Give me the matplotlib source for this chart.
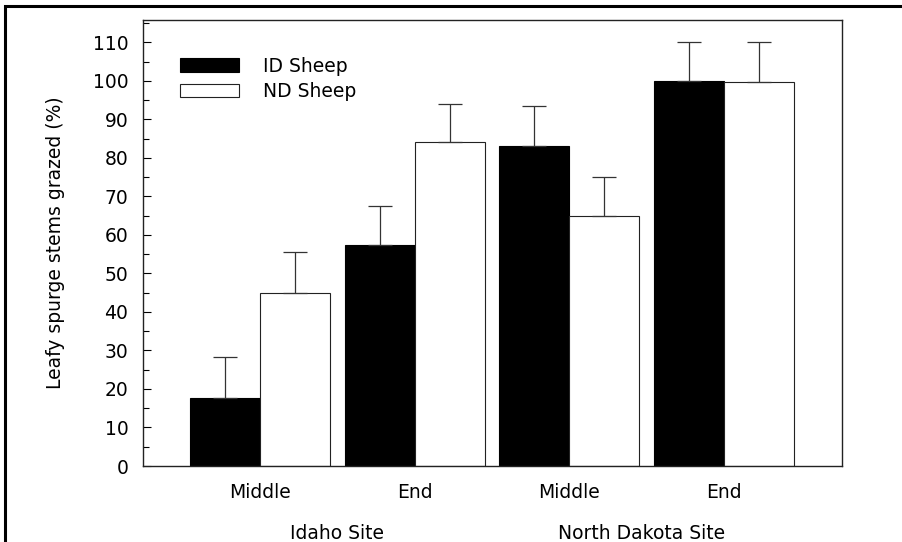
import matplotlib.pyplot as plt
from matplotlib.patches import Rectangle
from matplotlib.ticker import MultipleLocator
import numpy as np

# data
periods = ["Middle", "End", "Middle", "End"]
sites = ["Idaho Site", "North Dakota Site"]
series = ["ID Sheep", "ND Sheep"]
id_sheep = [17.7, 57.5, 83.0, 100.0]
id_err = [10.5, 10.0, 10.5, 10.2]
nd_sheep = [45.0, 84.0, 65.0, 99.8]
nd_err = [10.5, 10.0, 10.0, 10.2]

plt.rcParams["font.family"] = ["DejaVu Sans"]
fs = 13.5

fig = plt.figure(figsize=(9.02, 5.42), dpi=100)
ax = fig.add_axes([0.1585, 0.1402, 0.775, 0.8229])

x = np.arange(len(periods))
w = 0.4525
err_color = "#333333"

ax.bar(x - w / 2, id_sheep, w, color="black", edgecolor="black",
       linewidth=0.8, label=series[0], zorder=2)
ax.bar(x + w / 2, nd_sheep, w, color="white", edgecolor="#222222",
       linewidth=0.8, label=series[1], zorder=2)

ax.errorbar(x - w / 2, id_sheep, yerr=[np.zeros(len(x)), id_err], fmt="none",
            ecolor=err_color, elinewidth=0.9, capsize=8.6, capthick=0.9, zorder=3)
ax.errorbar(x + w / 2, nd_sheep, yerr=[np.zeros(len(x)), nd_err], fmt="none",
            ecolor=err_color, elinewidth=0.9, capsize=8.6, capthick=0.9, zorder=3)

ax.set_xlim(-0.756, 3.763)
ax.set_ylim(0, 115.8)
ax.yaxis.set_major_locator(MultipleLocator(10))
ax.yaxis.set_minor_locator(MultipleLocator(5))
ax.tick_params(axis="y", which="major", direction="in", length=6, width=0.8,
               labelsize=fs, pad=10.5)
ax.tick_params(axis="y", which="minor", direction="in", length=4, width=0.8)
ax.set_xticks(x)
ax.set_xticklabels(periods, fontsize=fs)
ax.tick_params(axis="x", length=0, pad=12)

for s in ax.spines.values():
    s.set_linewidth(1.0)
    s.set_color("#222222")

ax.set_ylabel("Leafy spurge stems grazed (%)", fontsize=fs, labelpad=20)

# site labels under the period labels
for i, site in enumerate(sites):
    cx = (x[2 * i] + x[2 * i + 1]) / 2 - (0.03 if i == 1 else 0)
    ax.text(cx, -0.152, site, transform=ax.get_xaxis_transform(),
            ha="center", va="center", fontsize=fs)

ax.legend(loc="upper left", bbox_to_anchor=(0.053, 0.918), frameon=False,
          fontsize=fs, handlelength=3.15, handleheight=0.74,
          handletextpad=1.25, labelspacing=0.35, borderpad=0,
          borderaxespad=0)

# outer border of the figure
fig.add_artist(Rectangle((5 / 902, -0.1), 1.2, 1.1 - 6 / 542,
                         transform=fig.transFigure, fill=False,
                         edgecolor="black", linewidth=2.2))

fig.savefig("out.png", dpi=100)
